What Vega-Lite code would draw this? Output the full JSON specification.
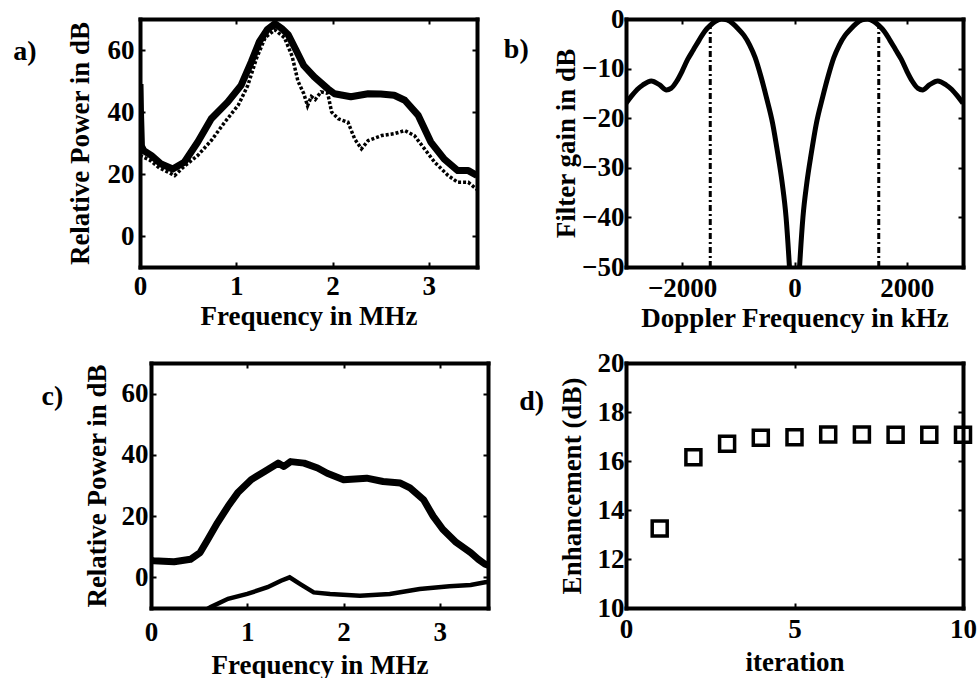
{
  "$schema": "https://vega.github.io/schema/vega-lite/v6.json",
  "background": "white",
  "padding": {"left": 13, "top": 5, "right": 0, "bottom": 0},
  "columns": 2,
  "spacing": {"row": 96, "column": 138},
  "bounds": "flush",
  "config": {
    "view": {"stroke": null},
    "font": "Liberation Serif",
    "axis": {
      "domainColor": "black", "domainWidth": 4, "domainCap": "square",
      "tickColor": "black", "tickWidth": 2, "tickSize": -5, "format": "d",
      "labelFont": "Liberation Serif", "labelFontWeight": "bold", "labelFontSize": 27, "labelColor": "black",
      "titleFont": "Liberation Serif", "titleFontWeight": "bold", "titleFontSize": 27, "titleColor": "black",
      "grid": false, "labelFlush": false, "labelOverlap": false
    },
    "title": {"font": "Liberation Serif", "fontWeight": "bold", "fontSize": 28, "color": "black"}
  },
  "concat": [
    {
      "width": 337, "height": 248,
      "title": {"text": "a)", "orient": "left", "anchor": "end", "frame": "group", "angle": 0, "align": "right", "baseline": "top", "offset": 6, "dy": 19},
      "data": {"values": [
        {"s": "thick", "f": 0.0, "p": 49}, {"s": "thick", "f": 0.005, "p": 40}, {"s": "thick", "f": 0.015, "p": 29},
        {"s": "thick", "f": 0.04, "p": 27.5}, {"s": "thick", "f": 0.117, "p": 26}, {"s": "thick", "f": 0.22, "p": 23.2},
        {"s": "thick", "f": 0.34, "p": 21.6}, {"s": "thick", "f": 0.46, "p": 23.8}, {"s": "thick", "f": 0.6, "p": 30.3},
        {"s": "thick", "f": 0.74, "p": 37.8}, {"s": "thick", "f": 0.91, "p": 43.2}, {"s": "thick", "f": 1.05, "p": 48.6},
        {"s": "thick", "f": 1.156, "p": 56.2}, {"s": "thick", "f": 1.24, "p": 62.7}, {"s": "thick", "f": 1.32, "p": 66.5},
        {"s": "thick", "f": 1.4, "p": 68.5}, {"s": "thick", "f": 1.47, "p": 67}, {"s": "thick", "f": 1.54, "p": 64.9},
        {"s": "thick", "f": 1.62, "p": 60}, {"s": "thick", "f": 1.7, "p": 55}, {"s": "thick", "f": 1.81, "p": 51.3},
        {"s": "thick", "f": 1.95, "p": 47.5}, {"s": "thick", "f": 2.02, "p": 45.9}, {"s": "thick", "f": 2.19, "p": 44.9},
        {"s": "thick", "f": 2.37, "p": 45.9}, {"s": "thick", "f": 2.5, "p": 45.8}, {"s": "thick", "f": 2.64, "p": 45.4},
        {"s": "thick", "f": 2.75, "p": 43.8}, {"s": "thick", "f": 2.89, "p": 38.9}, {"s": "thick", "f": 3.02, "p": 30.3},
        {"s": "thick", "f": 3.16, "p": 24.8}, {"s": "thick", "f": 3.3, "p": 21.1}, {"s": "thick", "f": 3.41, "p": 21.1},
        {"s": "thick", "f": 3.5, "p": 19.5},
        {"s": "dotted", "f": 0.0, "p": 26}, {"s": "dotted", "f": 0.1, "p": 24.5}, {"s": "dotted", "f": 0.2, "p": 22},
        {"s": "dotted", "f": 0.36, "p": 19.5}, {"s": "dotted", "f": 0.46, "p": 22.5}, {"s": "dotted", "f": 0.6, "p": 26},
        {"s": "dotted", "f": 0.74, "p": 30.8}, {"s": "dotted", "f": 0.88, "p": 36.7}, {"s": "dotted", "f": 1.02, "p": 42.2},
        {"s": "dotted", "f": 1.12, "p": 48.6}, {"s": "dotted", "f": 1.21, "p": 57.3}, {"s": "dotted", "f": 1.3, "p": 64},
        {"s": "dotted", "f": 1.4, "p": 66.5}, {"s": "dotted", "f": 1.5, "p": 64}, {"s": "dotted", "f": 1.58, "p": 58},
        {"s": "dotted", "f": 1.64, "p": 50}, {"s": "dotted", "f": 1.7, "p": 46}, {"s": "dotted", "f": 1.74, "p": 42},
        {"s": "dotted", "f": 1.78, "p": 45}, {"s": "dotted", "f": 1.82, "p": 44}, {"s": "dotted", "f": 1.88, "p": 46.5},
        {"s": "dotted", "f": 1.95, "p": 46}, {"s": "dotted", "f": 1.99, "p": 40}, {"s": "dotted", "f": 2.06, "p": 37.8},
        {"s": "dotted", "f": 2.16, "p": 36.7}, {"s": "dotted", "f": 2.23, "p": 31.3}, {"s": "dotted", "f": 2.3, "p": 28.1},
        {"s": "dotted", "f": 2.37, "p": 30.8}, {"s": "dotted", "f": 2.51, "p": 32.4}, {"s": "dotted", "f": 2.64, "p": 33},
        {"s": "dotted", "f": 2.75, "p": 34}, {"s": "dotted", "f": 2.85, "p": 32.4}, {"s": "dotted", "f": 2.955, "p": 28.1},
        {"s": "dotted", "f": 3.06, "p": 23.8}, {"s": "dotted", "f": 3.2, "p": 19.5}, {"s": "dotted", "f": 3.3, "p": 17.3},
        {"s": "dotted", "f": 3.41, "p": 17.3}, {"s": "dotted", "f": 3.5, "p": 15}
      ]},
      "layer": [
        {
          "transform": [{"filter": "datum.s == 'dotted'"}],
          "mark": {"type": "line", "color": "black", "strokeWidth": 3.5, "strokeDash": [3, 2], "clip": true},
          "encoding": {
            "x": {"field": "f", "type": "quantitative", "scale": {"domain": [0, 3.5], "nice": false, "zero": false},
                  "axis": {"orient": "top", "values": [0, 1, 2, 3], "labels": false, "title": null}},
            "y": {"field": "p", "type": "quantitative", "scale": {"domain": [-10, 70], "nice": false, "zero": false},
                  "axis": {"orient": "right", "values": [0, 20, 40, 60], "labels": false, "title": null}}
          }
        },
        {
          "transform": [{"filter": "datum.s == 'thick'"}],
          "mark": {"type": "line", "color": "black", "strokeWidth": 7, "strokeJoin": "round", "clip": true},
          "encoding": {
            "x": {"field": "f", "type": "quantitative", "scale": {"domain": [0, 3.5], "nice": false, "zero": false},
                  "axis": {"orient": "bottom", "values": [0, 1, 2, 3], "title": "Frequency in MHz", "labelPadding": 11, "titlePadding": 4}},
            "y": {"field": "p", "type": "quantitative", "scale": {"domain": [-10, 70], "nice": false, "zero": false},
                  "axis": {"orient": "left", "values": [0, 20, 40, 60], "title": "Relative Power in dB", "labelPadding": 11, "titlePadding": 13}}
          }
        }
      ],
      "resolve": {"axis": {"x": "independent", "y": "independent"}}
    },
    {
      "width": 337, "height": 248,
      "title": {"text": "b)", "orient": "left", "anchor": "end", "frame": "group", "angle": 0, "align": "right", "baseline": "top", "offset": -1, "dy": 17},
      "data": {"values": [
        {"s": "curve", "f": -3000, "g": -17}, {"s": "curve", "f": -2900, "g": -15.5}, {"s": "curve", "f": -2800, "g": -14.2},
        {"s": "curve", "f": -2700, "g": -13.3}, {"s": "curve", "f": -2550, "g": -12.5}, {"s": "curve", "f": -2400, "g": -13.3},
        {"s": "curve", "f": -2280, "g": -14.3}, {"s": "curve", "f": -2200, "g": -14}, {"s": "curve", "f": -2100, "g": -12.6},
        {"s": "curve", "f": -2000, "g": -10.5}, {"s": "curve", "f": -1900, "g": -8.1}, {"s": "curve", "f": -1800, "g": -6.2},
        {"s": "curve", "f": -1700, "g": -4.3}, {"s": "curve", "f": -1600, "g": -2.5}, {"s": "curve", "f": -1500, "g": -1.3},
        {"s": "curve", "f": -1400, "g": -0.4}, {"s": "curve", "f": -1300, "g": 0}, {"s": "curve", "f": -1200, "g": -0.2},
        {"s": "curve", "f": -1100, "g": -0.9}, {"s": "curve", "f": -1000, "g": -2}, {"s": "curve", "f": -900, "g": -3.3},
        {"s": "curve", "f": -800, "g": -5.2}, {"s": "curve", "f": -700, "g": -7.8}, {"s": "curve", "f": -600, "g": -11.5},
        {"s": "curve", "f": -500, "g": -15.8}, {"s": "curve", "f": -390, "g": -21}, {"s": "curve", "f": -300, "g": -27},
        {"s": "curve", "f": -220, "g": -33}, {"s": "curve", "f": -150, "g": -40}, {"s": "curve", "f": -90, "g": -50},
        {"s": "curve", "f": 0, "g": -70},
        {"s": "curve", "f": 90, "g": -50}, {"s": "curve", "f": 150, "g": -40}, {"s": "curve", "f": 220, "g": -33},
        {"s": "curve", "f": 300, "g": -27}, {"s": "curve", "f": 390, "g": -21}, {"s": "curve", "f": 500, "g": -15.8},
        {"s": "curve", "f": 600, "g": -11.5}, {"s": "curve", "f": 700, "g": -7.8}, {"s": "curve", "f": 800, "g": -5.2},
        {"s": "curve", "f": 900, "g": -3.3}, {"s": "curve", "f": 1000, "g": -2}, {"s": "curve", "f": 1100, "g": -0.9},
        {"s": "curve", "f": 1200, "g": -0.2}, {"s": "curve", "f": 1300, "g": 0}, {"s": "curve", "f": 1400, "g": -0.4},
        {"s": "curve", "f": 1500, "g": -1.3}, {"s": "curve", "f": 1600, "g": -2.5}, {"s": "curve", "f": 1700, "g": -4.3},
        {"s": "curve", "f": 1800, "g": -6.2}, {"s": "curve", "f": 1900, "g": -8.1}, {"s": "curve", "f": 2000, "g": -10.5},
        {"s": "curve", "f": 2100, "g": -12.6}, {"s": "curve", "f": 2200, "g": -14}, {"s": "curve", "f": 2280, "g": -14.3},
        {"s": "curve", "f": 2400, "g": -13.3}, {"s": "curve", "f": 2550, "g": -12.5}, {"s": "curve", "f": 2700, "g": -13.3},
        {"s": "curve", "f": 2800, "g": -14.2}, {"s": "curve", "f": 2900, "g": -15.5}, {"s": "curve", "f": 3000, "g": -17},
        {"s": "mark", "f": -1500, "g": -50, "g2": -1.5}, {"s": "mark", "f": 1500, "g": -50, "g2": -1.5}
      ]},
      "layer": [
        {
          "transform": [{"filter": "datum.s == 'mark'"}],
          "mark": {"type": "rule", "color": "black", "strokeWidth": 3, "strokeDash": [6, 3, 2, 3]},
          "encoding": {
            "x": {"field": "f", "type": "quantitative", "scale": {"domain": [-3000, 3000], "nice": false, "zero": false},
                  "axis": {"orient": "top", "values": [-2000, 0, 2000], "labels": false, "title": null}},
            "y": {"field": "g", "type": "quantitative", "scale": {"domain": [-50, 0], "nice": false, "zero": false},
                  "axis": {"orient": "right", "values": [-50, -40, -30, -20, -10, 0], "labels": false, "title": null}},
            "y2": {"field": "g2"}
          }
        },
        {
          "transform": [{"filter": "datum.s == 'curve'"}],
          "mark": {"type": "line", "color": "black", "strokeWidth": 5, "interpolate": "monotone", "clip": true},
          "encoding": {
            "x": {"field": "f", "type": "quantitative", "scale": {"domain": [-3000, 3000], "nice": false, "zero": false},
                  "axis": {"orient": "bottom", "values": [-2000, 0, 2000], "title": "Doppler Frequency in kHz", "labelPadding": 13, "titlePadding": 4}},
            "y": {"field": "g", "type": "quantitative", "scale": {"domain": [-50, 0], "nice": false, "zero": false},
                  "axis": {"orient": "left", "values": [-50, -40, -30, -20, -10, 0], "title": "Filter gain in dB", "labelPadding": 7, "titlePadding": 1}}
          }
        }
      ],
      "resolve": {"axis": {"x": "independent", "y": "independent"}}
    },
    {
      "width": 348, "height": 245,
      "title": {"text": "c)", "orient": "left", "anchor": "end", "frame": "group", "angle": 0, "align": "right", "baseline": "top", "offset": -2, "dy": 20},
      "data": {"values": [
        {"s": "thick", "f": 0.0, "p": 5.5}, {"s": "thick", "f": 0.03, "p": 5.4}, {"s": "thick", "f": 0.13, "p": 5.3},
        {"s": "thick", "f": 0.24, "p": 5.1}, {"s": "thick", "f": 0.41, "p": 5.9}, {"s": "thick", "f": 0.51, "p": 8.1},
        {"s": "thick", "f": 0.59, "p": 12.4}, {"s": "thick", "f": 0.69, "p": 17.8}, {"s": "thick", "f": 0.8, "p": 23.2},
        {"s": "thick", "f": 0.9, "p": 27.6}, {"s": "thick", "f": 1.04, "p": 31.9}, {"s": "thick", "f": 1.18, "p": 34.6},
        {"s": "thick", "f": 1.32, "p": 37.3}, {"s": "thick", "f": 1.38, "p": 36.2}, {"s": "thick", "f": 1.45, "p": 37.8},
        {"s": "thick", "f": 1.59, "p": 37.3}, {"s": "thick", "f": 1.73, "p": 35.7}, {"s": "thick", "f": 1.83, "p": 34},
        {"s": "thick", "f": 2.0, "p": 31.9}, {"s": "thick", "f": 2.24, "p": 32.4}, {"s": "thick", "f": 2.41, "p": 31.3},
        {"s": "thick", "f": 2.59, "p": 30.8}, {"s": "thick", "f": 2.69, "p": 29.2}, {"s": "thick", "f": 2.83, "p": 25.4},
        {"s": "thick", "f": 2.93, "p": 20}, {"s": "thick", "f": 3.03, "p": 15.7}, {"s": "thick", "f": 3.17, "p": 11.4},
        {"s": "thick", "f": 3.32, "p": 8.1}, {"s": "thick", "f": 3.4, "p": 5.9}, {"s": "thick", "f": 3.47, "p": 4.3},
        {"s": "thick", "f": 3.5, "p": 4},
        {"s": "thin", "f": 0.55, "p": -11}, {"s": "thin", "f": 0.62, "p": -9.7}, {"s": "thin", "f": 0.8, "p": -7},
        {"s": "thin", "f": 1.0, "p": -5.4}, {"s": "thin", "f": 1.21, "p": -3.2}, {"s": "thin", "f": 1.35, "p": -1.1},
        {"s": "thin", "f": 1.44, "p": 0}, {"s": "thin", "f": 1.55, "p": -2.2}, {"s": "thin", "f": 1.69, "p": -4.9},
        {"s": "thin", "f": 1.86, "p": -5.4}, {"s": "thin", "f": 2.17, "p": -6}, {"s": "thin", "f": 2.48, "p": -5.4},
        {"s": "thin", "f": 2.79, "p": -3.8}, {"s": "thin", "f": 3.1, "p": -2.9}, {"s": "thin", "f": 3.32, "p": -2.5},
        {"s": "thin", "f": 3.47, "p": -1.6}, {"s": "thin", "f": 3.5, "p": -1.5}
      ]},
      "layer": [
        {
          "transform": [{"filter": "datum.s == 'thin'"}],
          "mark": {"type": "line", "color": "black", "strokeWidth": 4.5, "clip": true},
          "encoding": {
            "x": {"field": "f", "type": "quantitative", "scale": {"domain": [0, 3.5], "range": [11, 348], "nice": false, "zero": false},
                  "axis": {"orient": "top", "values": [0, 1, 2, 3], "labels": false, "title": null}},
            "y": {"field": "p", "type": "quantitative", "scale": {"domain": [-10, 70], "nice": false, "zero": false},
                  "axis": {"orient": "right", "values": [0, 20, 40, 60], "labels": false, "title": null}}
          }
        },
        {
          "transform": [{"filter": "datum.s == 'thick'"}],
          "mark": {"type": "line", "color": "black", "strokeWidth": 7, "strokeJoin": "round", "clip": true},
          "encoding": {
            "x": {"field": "f", "type": "quantitative", "scale": {"domain": [0, 3.5], "range": [11, 348], "nice": false, "zero": false},
                  "axis": {"orient": "bottom", "values": [0, 1, 2, 3], "title": "Frequency in MHz", "labelPadding": 16, "titlePadding": 7}},
            "y": {"field": "p", "type": "quantitative", "scale": {"domain": [-10, 70], "nice": false, "zero": false},
                  "axis": {"orient": "left", "offset": -11, "values": [0, 20, 40, 60], "title": "Relative Power in dB", "labelPadding": 8, "titlePadding": 10}}
          }
        }
      ],
      "resolve": {"axis": {"x": "independent", "y": "independent"}}
    },
    {
      "width": 337, "height": 245,
      "title": {"text": "d)", "orient": "left", "anchor": "end", "frame": "group", "angle": 0, "align": "right", "baseline": "top", "offset": -11, "dy": 25},
      "data": {"values": [
        {"it": 1, "e": 13.25}, {"it": 2, "e": 16.15}, {"it": 3, "e": 16.7}, {"it": 4, "e": 16.95}, {"it": 5, "e": 16.97},
        {"it": 6, "e": 17.08}, {"it": 7, "e": 17.08}, {"it": 8, "e": 17.07}, {"it": 9, "e": 17.07}, {"it": 10, "e": 17.07}
      ]},
      "layer": [
        {
          "mark": {"type": "point", "shape": "square", "size": 225, "filled": false, "color": "black", "strokeWidth": 3.5, "opacity": 0},
          "encoding": {
            "x": {"field": "it", "type": "quantitative", "scale": {"domain": [0, 10], "nice": false, "zero": false},
                  "axis": {"orient": "top", "values": [0, 5, 10], "labels": false, "title": null}},
            "y": {"field": "e", "type": "quantitative", "scale": {"domain": [10, 20], "nice": false, "zero": false},
                  "axis": {"orient": "right", "values": [10, 12, 14, 16, 18, 20], "labels": false, "title": null}}
          }
        },
        {
          "mark": {"type": "point", "shape": "square", "size": 225, "filled": false, "color": "black", "strokeWidth": 3.5, "opacity": 1},
          "encoding": {
            "x": {"field": "it", "type": "quantitative", "scale": {"domain": [0, 10], "nice": false, "zero": false},
                  "axis": {"orient": "bottom", "values": [0, 5, 10], "title": "iteration", "labelPadding": 13, "titlePadding": 7}},
            "y": {"field": "e", "type": "quantitative", "scale": {"domain": [10, 20], "nice": false, "zero": false},
                  "axis": {"orient": "left", "values": [10, 12, 14, 16, 18, 20], "title": "Enhancement (dB)", "labelPadding": 7, "titlePadding": 11}}
          }
        }
      ],
      "resolve": {"axis": {"x": "independent", "y": "independent"}}
    }
  ]
}
